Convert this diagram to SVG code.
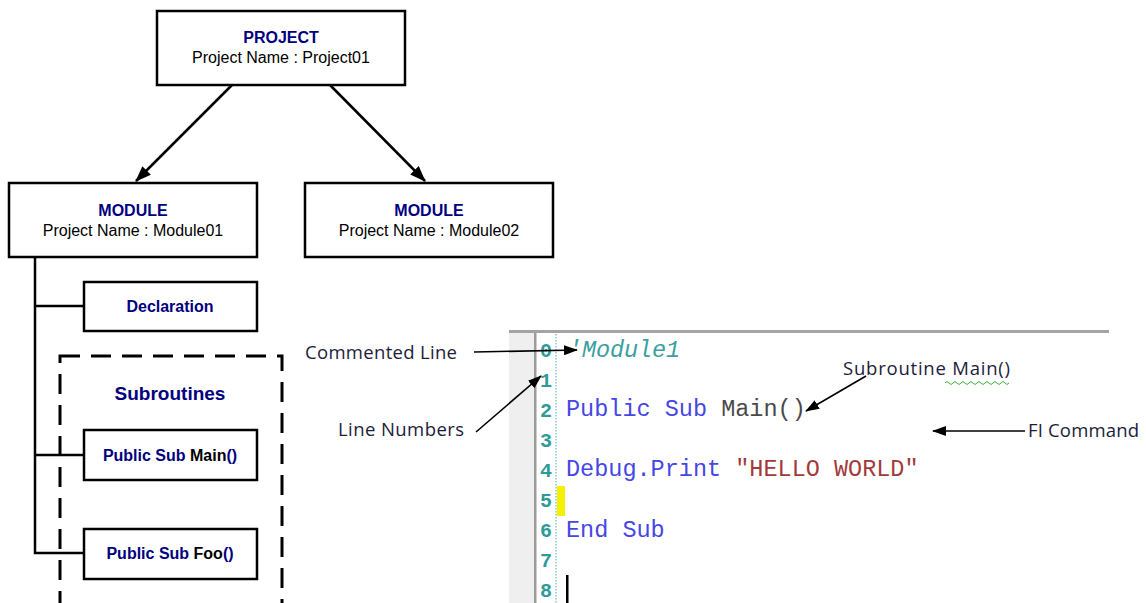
<svg xmlns="http://www.w3.org/2000/svg" width="1146" height="603" viewBox="0 0 1146 603">
  <defs>
    <marker id="headSmall" viewBox="0 0 14 10" refX="13" refY="5" markerWidth="14" markerHeight="10" markerUnits="userSpaceOnUse" orient="auto">
      <path d="M0,0 L14,5 L0,10 Z" fill="#000"/>
    </marker>
    <marker id="headTree" viewBox="0 0 16 12" refX="15" refY="6" markerWidth="16" markerHeight="12" markerUnits="userSpaceOnUse" orient="auto">
      <path d="M0,0 L16,6 L0,12 Z" fill="#000"/>
    </marker>
  </defs>
  <style>
    .box { fill: #fff; stroke: #000; stroke-width: 2.5; }
    .title { font-family: "Liberation Sans", Arial, sans-serif; font-weight: bold; font-size: 16px; fill: #000080; text-anchor: middle; }
    .sub { font-family: "Liberation Sans", Arial, sans-serif; font-size: 16px; fill: #000; text-anchor: middle; }
    .blk { fill: #000; }
    .nav { fill: #000080; }
    .wire { stroke: #000; stroke-width: 2.5; fill: none; }
    .note { font-family: "Open Sans", "Liberation Sans", sans-serif; font-size: 18.5px; fill: #1c1c3a; }
    .pointer { stroke: #000; stroke-width: 1.6; fill: none; }
    .code { font-family: "Liberation Mono", "Courier New", monospace; font-size: 23.5px; }
    .num { font-family: "Liberation Mono", "Courier New", monospace; font-size: 20px; fill: #2e9a9a; font-weight: bold; }
    .kw { fill: #4646e6; }
    .id { fill: #4a4a4a; }
    .str { fill: #a33a3a; }
    .cmt { fill: #3aa0a0; font-style: italic; }
  </style>

  <!-- hierarchy: project and modules -->
  <g id="connectors">
    <line class="wire" x1="232" y1="85" x2="136" y2="181" marker-end="url(#headTree)"/>
    <line class="wire" x1="330" y1="85" x2="425" y2="181" marker-end="url(#headTree)"/>
    <polyline class="wire" points="35,257 35,553 84,553"/>
    <line class="wire" x1="35" y1="306" x2="84" y2="306"/>
    <line class="wire" x1="35" y1="455" x2="84" y2="455"/>
  </g>

  <g id="project">
    <rect class="box" x="157" y="11" width="248" height="74"/>
    <text class="title" x="281" y="43">PROJECT</text>
    <text class="sub" x="281" y="63">Project Name : Project01</text>
  </g>

  <g id="module01">
    <rect class="box" x="9" y="183" width="248" height="74"/>
    <text class="title" x="133" y="216">MODULE</text>
    <text class="sub" x="133" y="236">Project Name : Module01</text>
  </g>

  <g id="module02">
    <rect class="box" x="305" y="183" width="248" height="74"/>
    <text class="title" x="429" y="216">MODULE</text>
    <text class="sub" x="429" y="236">Project Name : Module02</text>
  </g>

  <g id="declaration">
    <rect class="box" x="84" y="282" width="173" height="49"/>
    <text class="title" x="170" y="312">Declaration</text>
  </g>

  <g id="subroutines">
    <rect x="60" y="356" width="222" height="262" fill="none" stroke="#000" stroke-width="3" stroke-dasharray="20,11"/>
    <text class="title" x="170" y="400" style="font-size:19px">Subroutines</text>
  </g>

  <g id="sub-main">
    <rect class="box" x="84" y="430" width="173" height="50"/>
    <text class="title" x="170" y="461"><tspan class="nav">Public Sub </tspan><tspan class="blk">Main</tspan><tspan class="nav">()</tspan></text>
  </g>

  <g id="sub-foo">
    <rect class="box" x="84" y="529" width="173" height="50"/>
    <text class="title" x="170" y="559"><tspan class="nav">Public Sub </tspan><tspan class="blk">Foo</tspan><tspan class="nav">()</tspan></text>
  </g>

  <!-- code editor panel -->
  <g id="editor">
    <rect x="509" y="333" width="25" height="270" fill="#efefef"/>
    <rect x="509" y="330" width="600" height="3" fill="#a4a4a4"/>
    <rect x="534" y="333" width="2.5" height="270" fill="#9c9c9c"/>
    <line x1="556" y1="334" x2="556" y2="603" stroke="#4aaeb0" stroke-width="1" stroke-dasharray="1.5,1.5"/>
    <rect x="557" y="486" width="8" height="30" fill="#f5f000"/>
    <rect x="566" y="575" width="2.5" height="28" fill="#000"/>

    <text class="num" x="540" y="357">0</text>
    <text class="num" x="540" y="387">1</text>
    <text class="num" x="540" y="417">2</text>
    <text class="num" x="540" y="447">3</text>
    <text class="num" x="540" y="477">4</text>
    <text class="num" x="540" y="507">5</text>
    <text class="num" x="540" y="537">6</text>
    <text class="num" x="540" y="567">7</text>
    <text class="num" x="540" y="597">8</text>

    <text class="code cmt" x="568" y="357" textLength="112">'Module1</text>
    <text class="code" x="566" y="416"><tspan class="kw">Public Sub </tspan><tspan class="id">Main()</tspan></text>
    <text class="code" x="566" y="476"><tspan class="kw">Debug.Print </tspan><tspan class="str">"HELLO WORLD"</tspan></text>
    <text class="code kw" x="566" y="537">End Sub</text>
  </g>

  <!-- callouts -->
  <g id="callouts">
    <text class="note" x="305" y="359" textLength="152">Commented Line</text>
    <line class="pointer" x1="474" y1="352" x2="577" y2="350" marker-end="url(#headSmall)"/>
    <text class="note" x="338" y="436" textLength="126">Line Numbers</text>
    <line class="pointer" x1="476" y1="432" x2="541" y2="376" marker-end="url(#headSmall)"/>
    <text class="note" x="843" y="375" textLength="167">Subroutine Main()</text>
    <path d="M945,383 q2,-3 4,0 t4,0 t4,0 t4,0 t4,0 t4,0 t4,0 t4,0 t4,0 t4,0 t4,0 t4,0 t4,0 t4,0 t4,0 t4,0" fill="none" stroke="#3cb43c" stroke-width="1"/>
    <line class="pointer" x1="866" y1="376" x2="806" y2="411" marker-end="url(#headSmall)"/>
    <text class="note" x="1028" y="437" textLength="111">FI Command</text>
    <line class="pointer" x1="1025" y1="431" x2="933" y2="431" marker-end="url(#headSmall)"/>
  </g>
</svg>
